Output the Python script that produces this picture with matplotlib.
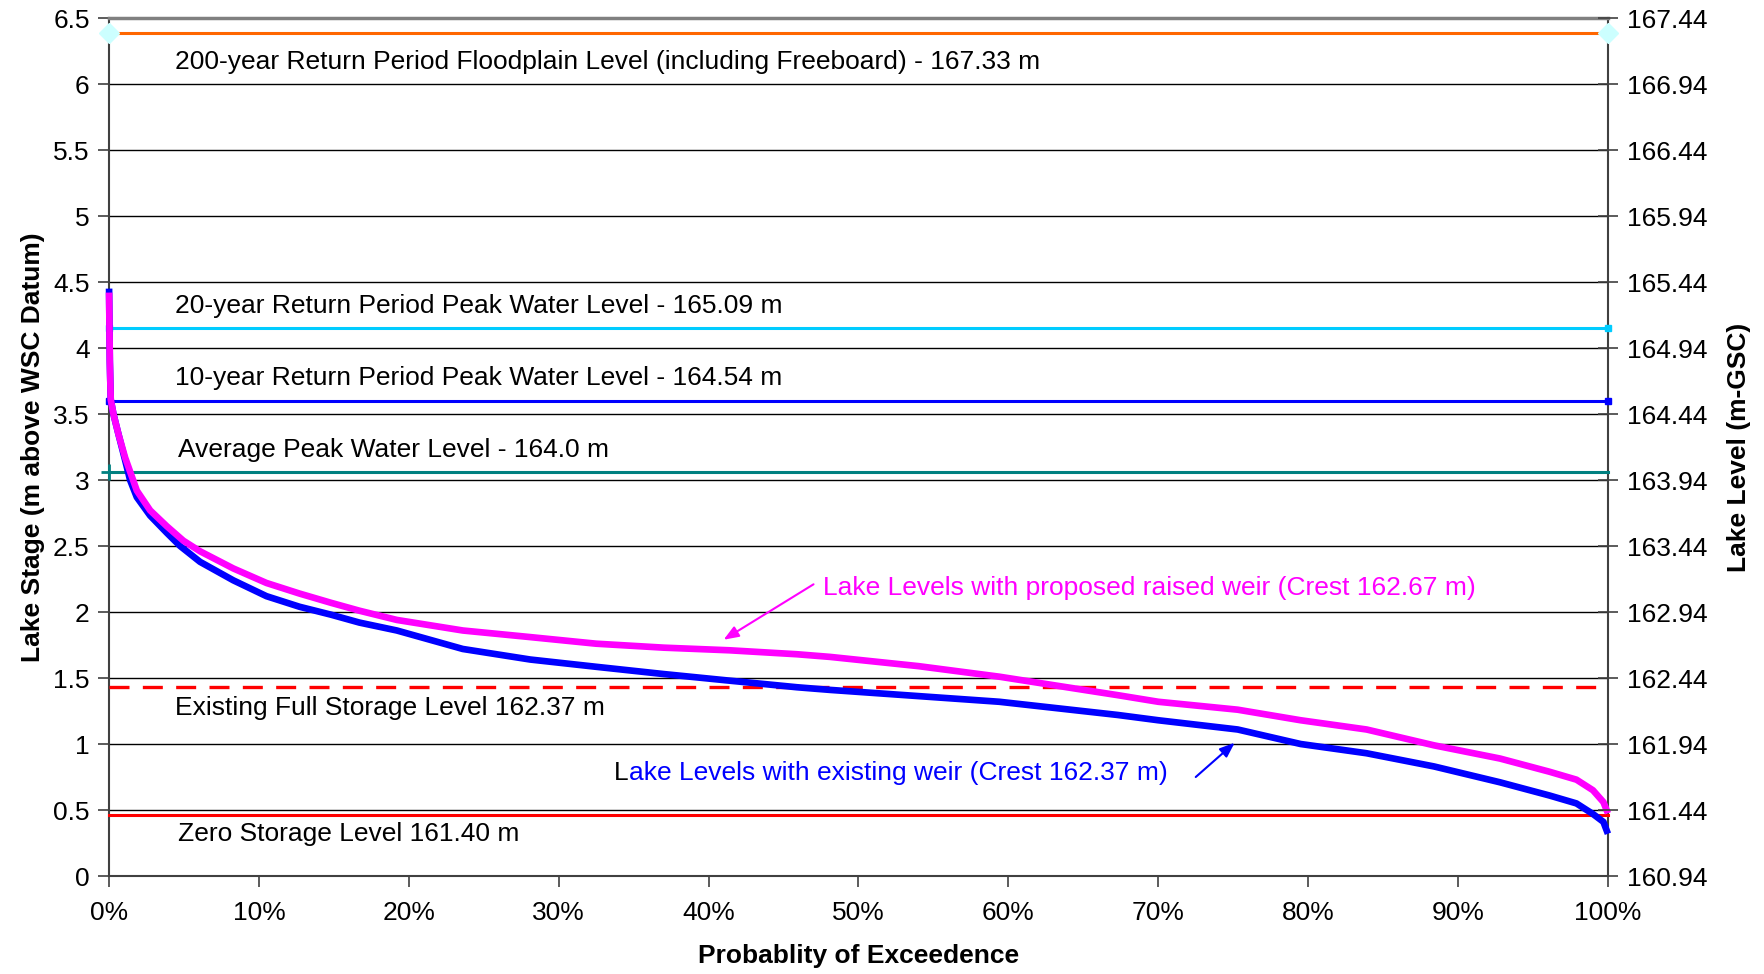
import matplotlib
matplotlib.use("Agg")
import matplotlib.pyplot as plt
import numpy as np

plt.rcParams['font.family'] = ['Liberation Sans', 'DejaVu Sans']

# ---- data ----
existing_x = [0, 0.05, 0.11, 0.29, 0.62, 1.07, 1.40, 1.85, 2.74, 3.85,
              4.74, 6.07, 8.29, 10.5, 12.7, 14.8, 16.7, 19.2, 23.6, 28.1,
              32.5, 37.0, 41.4, 45.9, 48.1, 59.4, 67.3, 70.0, 75.3, 79.5,
              83.9, 88.4, 92.8, 96.1, 97.9, 99.0, 99.7, 100]
existing_y = [4.45, 3.9, 3.61, 3.5, 3.35, 3.15, 3.0, 2.87, 2.73, 2.60,
              2.50, 2.38, 2.24, 2.12, 2.04, 1.98, 1.92, 1.86, 1.72, 1.64,
              1.585, 1.53, 1.48, 1.43, 1.41, 1.32, 1.22, 1.18, 1.11, 1.0,
              0.93, 0.83, 0.71, 0.61, 0.55, 0.47, 0.41, 0.32]
proposed_x = [0, 0.05, 0.11, 0.29, 0.62, 1.07, 1.29, 1.85, 2.74, 3.85,
              4.96, 6.07, 8.29, 10.5, 12.7, 14.8, 16.7, 19.2, 23.6, 28.1,
              32.5, 37.0, 41.4, 45.9, 48.1, 54.0, 59.4, 63.9, 67.3, 70.0,
              75.3, 79.5, 83.9, 88.4, 92.8, 96.1, 97.9, 99.0, 99.7, 100]
proposed_y = [4.42, 3.9, 3.61, 3.5, 3.35, 3.17, 3.10, 2.92, 2.77, 2.65,
              2.54, 2.46, 2.33, 2.22, 2.14, 2.07, 2.01, 1.94, 1.86, 1.81,
              1.76, 1.73, 1.71, 1.68, 1.66, 1.59, 1.51, 1.43, 1.37, 1.32,
              1.26, 1.18, 1.11, 0.99, 0.89, 0.79, 0.73, 0.65, 0.56, 0.475]

datum = 160.94
ref_levels = [167.33, 165.09, 164.54, 164.0, 162.37, 161.40]
ref_labels = ["200-year Return Period Floodplain Level (including Freeboard) - 167.33 m",
              "20-year Return Period Peak Water Level - 165.09 m",
              "10-year Return Period Peak Water Level - 164.54 m",
              "Average Peak Water Level - 164.0 m",
              "Existing Full Storage Level 162.37 m",
              "Zero Storage Level 161.40 m"]
ref_colors = ['#FF6600', '#00CCFF', '#0000FF', '#008080', '#FF0000', '#FF0000']
ref_styles = ['-', '-', '-', '-', '--', '-']
ref_markers = ['D', 's', 's', '+', None, None]
ref_mcolors = ['#CCFFFF', '#00CCFF', '#0000FF', '#008080', None, None]
ref_text_pos = [(4.4, 6.17), (4.4, 4.32), (4.4, 3.77), (4.6, 3.23), (4.4, 1.27), (4.6, 0.32)]

x_ticks = [0, 10, 20, 30, 40, 50, 60, 70, 80, 90, 100]
y_ticks = [0, 0.5, 1, 1.5, 2, 2.5, 3, 3.5, 4, 4.5, 5, 5.5, 6, 6.5]

# ---- figure ----
fig = plt.figure(figsize=(17.65, 9.74), dpi=100)
ax = fig.add_axes([0.0618, 0.1006, 0.911 - 0.0618, 0.9815 - 0.1006])

FS = 19

for yv in y_ticks[1:-1]:
    ax.axhline(yv, color='black', lw=1.0, zorder=1)

for lvl, lab, c, ls, mk, mc, tp in zip(ref_levels, ref_labels, ref_colors, ref_styles,
                                       ref_markers, ref_mcolors, ref_text_pos):
    yv = lvl - datum
    if ls == '--':
        ax.plot([0, 100], [yv, yv], color=c, lw=2.4, dashes=(6, 4), zorder=3, clip_on=False)
    else:
        ax.plot([0, 100], [yv, yv], color=c, lw=2.2, zorder=3, clip_on=False)
    if mk == 'D':
        ax.plot([0, 100], [yv, yv], ls='none', marker='D', ms=10, mfc=mc, mec=mc,
                zorder=4, clip_on=False)
    elif mk == '+':
        ax.plot([0], [yv], ls='none', marker='+', ms=12, mew=2, color=mc,
                zorder=4, clip_on=False)
    elif mk == 's':
        ax.plot([0, 100], [yv, yv], ls='none', marker='s', ms=5, mfc=mc, mec=mc,
                zorder=4, clip_on=False)
    ax.text(tp[0], tp[1], lab, fontsize=FS, color='black', ha='left', va='center', zorder=5)

ax.plot(existing_x, existing_y, color='#0000FF', lw=4.8, zorder=6, clip_on=False,
        solid_joinstyle='round', solid_capstyle='butt')
ax.plot(proposed_x, proposed_y, color='#FF00FF', lw=4.8, zorder=7, clip_on=False,
        solid_joinstyle='round', solid_capstyle='butt')

# annotations
ax.text(47.6, 2.18, "Lake Levels with proposed raised weir (Crest 162.67 m)", color='#FF00FF',
        fontsize=FS, ha='left', va='center', zorder=8)
ax.annotate("", xy=(41.0, 1.79), xytext=(47.0, 2.21),
            arrowprops=dict(arrowstyle='-|>,head_length=0.9,head_width=0.35', color='#FF00FF',
                            lw=1.5, shrinkA=0, shrinkB=0), zorder=8)

tL = ax.text(33.7, 0.78, "L", color='black', fontsize=FS, ha='left', va='center', zorder=8)
ax.annotate("", xy=(75.1, 1.01), xytext=(72.5, 0.75),
            arrowprops=dict(arrowstyle='-|>,head_length=0.9,head_width=0.35', color='#0000FF',
                            lw=1.5, shrinkA=0, shrinkB=0), zorder=8)

ax.set_xlim(0, 100)
ax.set_ylim(0, 6.5)
ax.set_xticks(x_ticks)
ax.set_xticklabels([f"{v}%" for v in x_ticks], fontsize=FS)
ax.set_yticks(y_ticks)
ax.set_yticklabels([f"{v:g}" for v in y_ticks], fontsize=FS)
ax.tick_params(axis='both', direction='out', length=8, width=1.2, color='#404040', pad=6)
ax.tick_params(axis='x', pad=10)
ax.set_xlabel("Probablity of Exceedence", fontsize=FS, fontweight='bold', labelpad=14)
ax.set_ylabel("Lake Stage (m above WSC Datum)", fontsize=FS, fontweight='bold', labelpad=6)
for s in ['left', 'right', 'bottom']:
    ax.spines[s].set_color('#404040')
    ax.spines[s].set_linewidth(1.5)
ax.spines['top'].set_color('#808080')
ax.spines['top'].set_linewidth(2.5)

ax2 = ax.twinx()
ax2.set_ylim(datum, datum + 6.5)
r_ticks = [datum + v for v in y_ticks]
ax2.set_yticks(r_ticks)
ax2.set_yticklabels([f"{v:.2f}" for v in r_ticks], fontsize=FS)
ax2.tick_params(axis='y', direction='inout', length=14, width=1.2, color='#404040', pad=7)
ax2.set_ylabel("Lake Level (m-GSC)", fontsize=FS, fontweight='bold', labelpad=14)
for s in ax2.spines.values():
    s.set_visible(False)

# continue the blue label right after the black "L"
fig.canvas.draw()
bb = tL.get_window_extent()
xd, _ = ax.transData.inverted().transform((bb.x1, 0))
ax.text(xd, 0.78, "ake Levels with existing weir (Crest 162.37 m)", color='#0000FF',
        fontsize=FS, ha='left', va='center', zorder=8)

fig.savefig("out.png", dpi=100)
